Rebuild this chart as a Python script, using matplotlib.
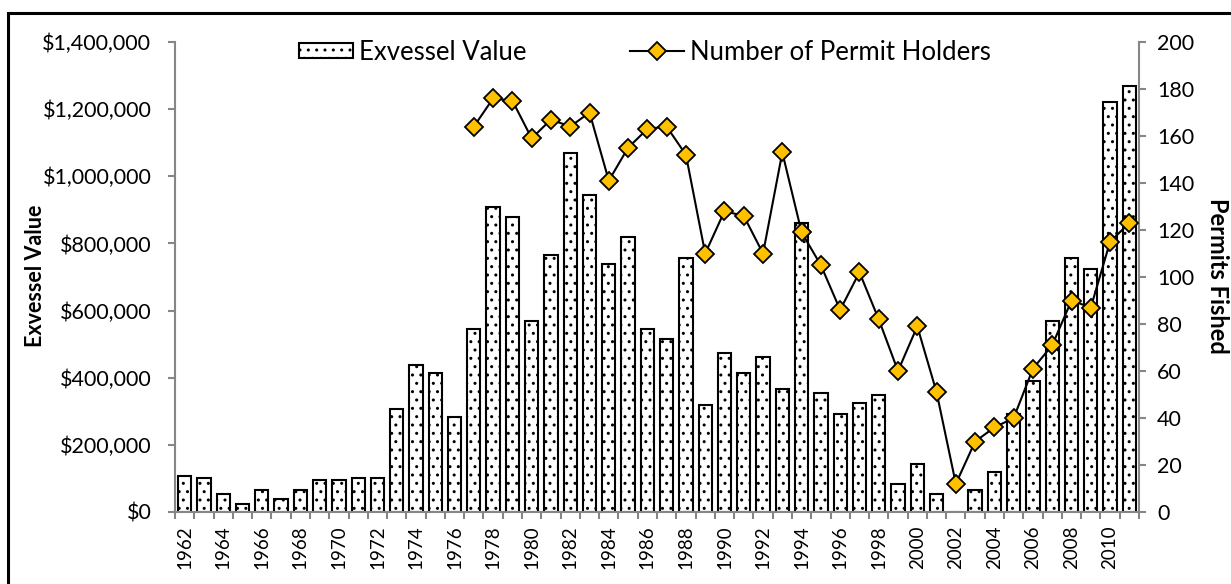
import matplotlib.pyplot as plt
import numpy as np
from matplotlib.patches import Rectangle
from matplotlib.ticker import FuncFormatter

plt.rcParams['font.family'] = ['Lato', 'DejaVu Sans']
plt.rcParams['hatch.linewidth'] = 1.0

years = list(range(1962, 2012))
exvessel = [107000, 100000, 53000, 23000, 65000, 40000, 65000, 94000, 94000, 100000,
            100000, 307000, 438000, 415000, 282000, 546000, 908000, 878000, 570000, 765000,
            1070000, 945000, 740000, 818000, 546000, 516000, 757000, 318000, 475000, 415000,
            462000, 366000, 860000, 354000, 293000, 324000, 348000, 82000, 143000, 53000,
            0, 65000, 119000, 291000, 390000, 570000, 757000, 723000, 1221000, 1269000]
permit_years = list(range(1977, 2012))
permits = [164, 176, 175, 159, 167, 164, 170, 141, 155, 163,
           164, 152, 110, 128, 126, 110, 153, 119, 105, 86,
           102, 82, 60, 79, 51, 12, 30, 36, 40, 61,
           71, 90, 87, 115, 123]

gray = '#868686'

fig = plt.figure(figsize=(12.31, 5.84), dpi=100)
ax = fig.add_axes([175 / 1231, 1 - 512 / 584, (1139 - 175) / 1231, (512 - 42) / 584])
ax2 = ax.twinx()

x = np.arange(len(years))
ax.bar(x, exvessel, width=0.69, color='white', edgecolor='black',
       linewidth=1.5, hatch='..', label='Exvessel Value', zorder=2)

px = np.array([years.index(y) for y in permit_years])
ax2.plot(px, permits, '-', color='black', linewidth=1.5, marker='D', markersize=9,
         markerfacecolor='#FFC000', markeredgecolor='black', markeredgewidth=1.3,
         label='Number of Permit Holders', zorder=3)

ax.set_xlim(-0.5, len(years) - 0.5)
ax.set_ylim(0, 1400000)
ax2.set_ylim(0, 200)
ax.set_yticks(np.arange(0, 1400001, 200000))
ax2.set_yticks(np.arange(0, 201, 20))
ax.yaxis.set_major_formatter(FuncFormatter(lambda v, p: '${:,.0f}'.format(v)))

ax.set_xticks(x[::2])
ax.set_xticklabels([str(y) for y in years[::2]], rotation=90)
ax.set_xticks(np.arange(-0.5, len(years), 1), minor=True)
ax.tick_params(axis='x', which='major', length=0, pad=9.5, labelsize=13.5, colors='black')
ax.tick_params(axis='x', which='minor', length=5, width=1.5, color=gray)
ax.tick_params(axis='y', length=5, width=1.5, color=gray, pad=12, labelsize=15.5)
ax2.tick_params(axis='y', length=5, width=1.5, color=gray, pad=8, labelsize=15.5)

for a in (ax, ax2):
    a.spines['top'].set_visible(False)
    for s in ('left', 'right', 'bottom'):
        a.spines[s].set_color(gray)
        a.spines[s].set_linewidth(1.5)
ax.spines['right'].set_visible(False)
ax2.spines['left'].set_visible(False)
ax2.spines['bottom'].set_visible(False)

fig.text(35 / 1231, 1 - 276 / 584, 'Exvessel Value', rotation=90, fontsize=15.5,
         fontweight='bold', ha='center', va='center')
fig.text(1217 / 1231, 1 - 276 / 584, 'Permits Fished', rotation=-90, fontsize=17,
         fontweight='bold', ha='center', va='center')

h1, l1 = ax.get_legend_handles_labels()
h2, l2 = ax2.get_legend_handles_labels()
fig.legend(h1 + h2, l1 + l2, loc='center', bbox_to_anchor=(645 / 1231, 1 - 52 / 584),
           ncol=2, frameon=False, fontsize=18.5, handlelength=2.1, handleheight=0.55,
           columnspacing=4.0, handletextpad=0.25)

fig.patches.append(Rectangle((8 / 1231, -0.1), 1.2, 1 - 13 / 584 + 0.1,
                             transform=fig.transFigure, fill=False,
                             edgecolor='black', linewidth=2.2))

fig.savefig('out.png', dpi=100)
